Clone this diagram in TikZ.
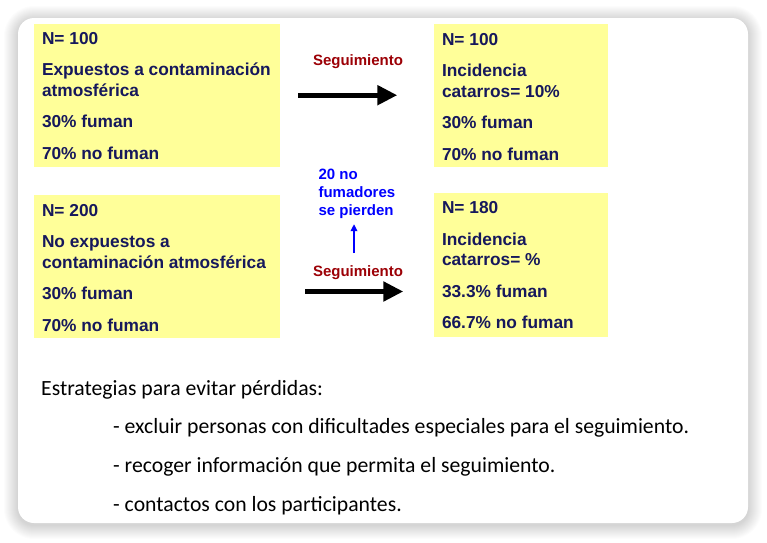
\documentclass[tikz,border=0pt]{standalone}
\usepackage{fontspec}
\setmainfont{Liberation Sans}
\newfontfamily\calibrifont{Carlito}
\usetikzlibrary{arrows.meta}
\definecolor{boxyellow}{HTML}{FFFF99}
\definecolor{boxnavy}{HTML}{16185C}
\definecolor{segred}{HTML}{9C0006}
\definecolor{lostblue}{HTML}{0000FF}
\tikzset{
  cohort/.style={fill=boxyellow, inner sep=0pt, anchor=north west},
  cohorttext/.style={text=boxnavy, font=\bfseries\fontsize{17.3}{20.5}\selectfont,
    align=left, anchor=base west, inner sep=0pt},
  segarrow/.style={-{Triangle[length=20pt,width=19pt]}, line width=5pt},
  seglabel/.style={text=segred, font=\bfseries\fontsize{15}{18}\selectfont, anchor=base},
  losttext/.style={text=lostblue, font=\bfseries\fontsize{15}{18}\selectfont,
    align=left, anchor=base west, inner sep=0pt},
  lostarrow/.style={-{Triangle[length=7pt,width=6.5pt]}, line width=2.2pt, lostblue},
  strattext/.style={font=\calibrifont\fontsize{21.7}{26}\selectfont, anchor=base west, inner sep=0pt}
}
\begin{document}
\begin{tikzpicture}[x=1pt,y=-1pt]
  \useasboundingbox (0,0) rectangle (767,542);
  % sombra y tarjeta
  \foreach \i in {1,...,14}
    \fill[black, opacity=0.013, rounded corners={(16+\i)*1pt}]
      (18-\i,18-\i+2) rectangle (748+\i,523+\i+2);
  \fill[white, rounded corners=16pt] (18,18) rectangle (748,523);

  % cohortes
  \node[cohort, minimum width=246.7pt, minimum height=143.4pt] (expo) at (33.3,23.3) {};
  \node[cohort, minimum width=174pt, minimum height=143pt] (expoSeg) at (433.3,24) {};
  \node[cohort, minimum width=246.7pt, minimum height=143pt] (noexpo) at (33.3,195) {};
  \node[cohort, minimum width=174pt, minimum height=144pt] (noexpoSeg) at (433.3,193) {};

  % el ancla base es la de la ultima linea
  \node[cohorttext] (expoTxt) at ([shift={(8.5,136)}]expo.north west)
    {N= 100\\[11pt]Expuestos a contaminación\\atmosférica\\[11pt]30\% fuman\\[11pt]70\% no fuman};
  \node[cohorttext] (expoSegTxt) at ([shift={(8.5,136)}]expoSeg.north west)
    {N= 100\\[11pt]Incidencia\\catarros= 10\%\\[11pt]30\% fuman\\[11pt]70\% no fuman};
  \node[cohorttext] (noexpoTxt) at ([shift={(8.5,136)}]noexpo.north west)
    {N= 200\\[11pt]No expuestos a\\contaminación atmosférica\\[11pt]30\% fuman\\[11pt]70\% no fuman};
  \node[cohorttext] (noexpoSegTxt) at ([shift={(8.5,135.5)}]noexpoSeg.north west)
    {N= 180\\[11pt]Incidencia\\catarros= \%\\[11pt]33.3\% fuman\\[11pt]66.7\% no fuman};

  % seguimiento
  \node[seglabel] (segTop) at (358,65) {Seguimiento};
  \node[seglabel] (segBot) at (358,276) {Seguimiento};
  \draw[segarrow, shorten <=18pt, shorten >=36pt] (expo.east) -- (expo.east -| expoSeg.west);
  \coordinate (segFrom) at (305,291.5);
  \draw[segarrow, shorten >=30pt] (segFrom) -- (segFrom -| noexpoSeg.west);

  % perdidas
  \node[losttext] (lost) at (318.3,215.3) {20 no\\fumadores\\se pierden};
  \coordinate (lostFrom) at (354,253);
  \draw[lostarrow, shorten >=5.5pt] (lostFrom) -- (lostFrom |- lost.south);

  % estrategias
  \node[strattext] (strat) at (41,395) {Estrategias para evitar pérdidas:};
  \foreach \y/\t [count=\k] in {433/{- excluir personas con dificultades especiales para el seguimiento.},
      472/{- recoger información que permita el seguimiento.},
      511/{- contactos con los participantes.}}
    \node[strattext] (strat\k) at (113,\y) {\t};
\end{tikzpicture}
\end{document}
